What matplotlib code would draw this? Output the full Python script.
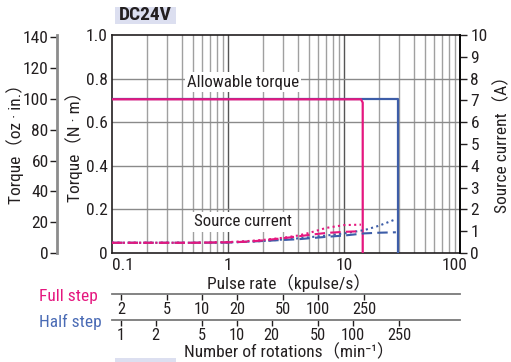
import matplotlib
matplotlib.use("Agg")
import matplotlib.pyplot as plt
import matplotlib.transforms as mtransforms
from matplotlib.patches import Rectangle
from matplotlib import font_manager as fm

# ---- pick a condensed sans face if one is installed ----
_pref = ['Roboto Condensed', 'Liberation Sans Narrow', 'Noto Sans', 'Open Sans', 'DejaVu Sans', 'Roboto', 'Lato', 'Inter']
_cond = {}
for f in fm.fontManager.ttflist:
    st = f.stretch
    if isinstance(st, str):
        is_c = 'condensed' in st or 'narrow' in st
    else:
        is_c = st < 500
    if 'condensed' in f.name.lower() or 'narrow' in f.name.lower():
        is_c = True
    if is_c:
        _cond.setdefault(f.name, True)
CHOSEN = None
for p in _pref:
    if p in _cond:
        CHOSEN = p
        break
if CHOSEN is None:
    for n in _cond:
        CHOSEN = n
        break
if CHOSEN:
    plt.rcParams['font.family'] = [CHOSEN, 'Noto Sans CJK JP', 'DejaVu Sans']
    plt.rcParams['font.stretch'] = 'condensed'
    S = 1.0
else:
    plt.rcParams['font.family'] = ['Liberation Sans', 'Noto Sans CJK JP', 'DejaVu Sans']
    S = 0.84

# ---------------- data ----------------
torque_full_x = [0.1, 14.0, 14.5, 14.5]
torque_full_y = [0.705, 0.705, 0.69, 0.0]
torque_half_x = [0.1, 29.0, 29.0]
torque_half_y = [0.705, 0.705, 0.0]

cur_full_x = [0.1, 0.5, 1.0, 1.5, 2.0, 3.0, 4.0, 5.0, 7.0, 10.0, 14.0]
cur_full_dot = [0.47, 0.47, 0.50, 0.55, 0.60, 0.70, 0.80, 0.92, 1.15, 1.28, 1.30]
cur_full_dash = [0.47, 0.47, 0.49, 0.52, 0.58, 0.68, 0.76, 0.83, 0.92, 0.97, 1.00]

cur_half_x = [0.1, 0.5, 1.0, 2.0, 3.0, 4.0, 7.0, 10.0, 15.0, 20.0, 28.0]
cur_half_dot = [0.47, 0.47, 0.48, 0.55, 0.62, 0.67, 0.80, 0.90, 1.05, 1.25, 1.55]
cur_half_dash = [0.47, 0.47, 0.48, 0.55, 0.60, 0.63, 0.74, 0.80, 0.90, 0.93, 0.95]

pulse_ticks = [0.1, 1, 10, 100]
pulse_labels = ['0.1', '1', '10', '100']
nm_ticks = [0, 0.2, 0.4, 0.6, 0.8, 1.0]
nm_labels = ['0', '0.2', '0.4', '0.6', '0.8', '1.0']
oz_ticks = [0, 20, 40, 60, 80, 100, 120, 140]
cur_ticks = list(range(0, 11))
full_rpm_ticks = [2, 5, 10, 20, 50, 100, 250]
half_rpm_ticks = [1, 2, 5, 10, 20, 50, 100, 250]
FULL_RPM_PER_KPPS = 16.8
HALF_RPM_PER_KPPS = 8.4
NM_PER_OZIN = 0.0070616

PINK = '#e5177f'
BLUE = '#3d5da8'
BLUE_TXT = '#4a6bb5'
INK = '#231f20'

TICK_FS = 12.5 * S
LAB_FS = 12.5 * S
NOTE_FS = 12.2 * S
SEC_FS = 11.8 * S

W, H = 511, 362
fig = plt.figure(figsize=(W / 100, H / 100), dpi=100)
L, R, T, B = 112, 460, 35, 253
AW, AH = R - L, B - T
ax = fig.add_axes([L / W, 1 - B / H, AW / W, AH / H])
ax.set_xscale('log')
ax.set_xlim(0.1, 100)
ax.set_ylim(0, 1.0)

# grid
for d in [0.1, 1, 10]:
    for m in range(2, 10):
        ax.axvline(d * m, color='#a0a0a0', lw=1.0, zorder=1)
for v in [1, 10]:
    ax.axvline(v, color='#555555', lw=1.0, zorder=1)
for yv in [0.2, 0.4, 0.6, 0.8]:
    ax.axhline(yv, color='#8a8a8a', lw=1.0, zorder=1)

ax.set_xticks(pulse_ticks)
ax.set_xticklabels(pulse_labels)
ax.xaxis.set_minor_locator(matplotlib.ticker.NullLocator())
ax.set_yticks(nm_ticks)
ax.set_yticklabels(nm_labels)
ax.tick_params(axis='x', length=0, labelsize=TICK_FS, pad=3.5, colors=INK)
ax.tick_params(axis='y', length=0, labelsize=TICK_FS, pad=3, colors=INK)
_xl = ax.get_xticklabels()
_xl[0].set_horizontalalignment('left')
_xl[-1].set_transform(_xl[-1].get_transform() +
                      mtransforms.ScaledTranslation(-5 / 100, 0, fig.dpi_scale_trans))
for s in ax.spines.values():
    s.set_color(INK)
    s.set_linewidth(1.2)

ax.plot(torque_half_x, torque_half_y, color=BLUE, lw=1.6, zorder=4)
ax.plot(torque_full_x, torque_full_y, color=PINK, lw=1.6, zorder=5)

ax.set_xlabel('Pulse rate（kpulse/s）', fontsize=LAB_FS, color=INK)
ax.xaxis.set_label_coords((289 - L) / AW, (B - 274) / AH)
ax.set_ylabel('Torque（N · m）', fontsize=LAB_FS, color=INK)
ax.yaxis.set_label_coords((83 - L) / AW, (B - 143) / AH)

ax.text((187 - L) / AW, (B - 82) / AH, 'Allowable torque', transform=ax.transAxes, fontsize=NOTE_FS,
        color=INK, va='center', ha='left', zorder=3,
        bbox=dict(facecolor='white', edgecolor='none', pad=1.5))
ax.text((194 - L) / AW, (B - 222) / AH, 'Source current', transform=ax.transAxes, fontsize=NOTE_FS,
        color=INK, va='center', ha='left', zorder=3,
        bbox=dict(facecolor='white', edgecolor='none', pad=1.5))

# source current axis
axc = ax.twinx()
axc.set_ylim(0, 10)
axc.set_yticks(cur_ticks)
axc.tick_params(axis='y', length=5, width=1, labelsize=TICK_FS, pad=2.5, colors=INK)
for k in ['left', 'top', 'bottom']:
    axc.spines[k].set_visible(False)
axc.spines['right'].set_linewidth(1.2)
axc.plot(cur_half_x, cur_half_dash, color=BLUE, lw=1.5, ls=(0, (5, 2.5)), zorder=5)
axc.plot(cur_half_x, cur_half_dot, color=BLUE, lw=1.5, ls=(0, (1, 1.6)), zorder=5)
axc.plot(cur_full_x, cur_full_dash, color=PINK, lw=1.5, ls=(0, (5, 2.5)), zorder=6)
axc.plot(cur_full_x, cur_full_dot, color=PINK, lw=1.5, ls=(0, (1, 1.6)), zorder=6)
axc.set_ylabel('Source current（A）', fontsize=LAB_FS, color=INK)
axc.yaxis.set_label_coords((494 - L) / AW, (B - 140) / AH)

# oz-in axis
axo = ax.twinx()
axo.set_ylim(0, 1.0 / NM_PER_OZIN)
axo.yaxis.set_ticks_position('left')
axo.yaxis.set_label_position('left')
axo.spines['left'].set_position(('axes', (57 - L) / AW))
axo.spines['left'].set_color('#8c8c8c')
axo.spines['left'].set_linewidth(2.0)
for k in ['right', 'top', 'bottom']:
    axo.spines[k].set_visible(False)
axo.set_yticks(oz_ticks)
axo.tick_params(axis='y', length=5, width=1, labelsize=TICK_FS, pad=1, colors=INK)
axo.set_ylabel('Torque（oz · in.）', fontsize=LAB_FS, color=INK)
axo.yaxis.set_label_coords((24 - L) / AW, (B - 140) / AH)

# rotation scales
def mk_sec(ypix, ratio, ticks):
    sec = ax.secondary_xaxis((B - ypix) / AH,
                             functions=(lambda x: x * ratio, lambda x: x / ratio))
    sec.set_xticks(ticks)
    sec.set_xticklabels([str(t) for t in ticks])
    sec.xaxis.set_minor_locator(matplotlib.ticker.NullLocator())
    sec.spines['bottom'].set_color('#7a7a7a')
    sec.spines['bottom'].set_linewidth(1.3)
    sec.tick_params(axis='x', length=4, width=1, labelsize=SEC_FS, pad=1.5, colors=INK)
    return sec

mk_sec(294, FULL_RPM_PER_KPPS, full_rpm_ticks)
mk_sec(320, HALF_RPM_PER_KPPS, half_rpm_ticks)

fig.text(39 / W, 1 - 296 / H, 'Full step', color=PINK, fontsize=LAB_FS, va='center', ha='left')
fig.text(39 / W, 1 - 322 / H, 'Half step', color=BLUE_TXT, fontsize=LAB_FS, va='center', ha='left')
fig.text(289 / W, 1 - 352 / H, 'Number of rotations（min⁻¹）', color=INK,
         fontsize=LAB_FS, va='center', ha='center')

# header
fig.patches.append(Rectangle((115 / W, 1 - 24 / H), 61 / W, 17 / H, transform=fig.transFigure,
                             facecolor='#dcdff0', edgecolor='none'))
fig.text(145.5 / W, 1 - 15.5 / H, 'DC24V', fontsize=14 * S, fontweight='bold', color=INK,
         va='center', ha='center')
fig.patches.append(Rectangle((115 / W, 0), 61 / W, 4 / H, transform=fig.transFigure,
                             facecolor='#dcdff0', edgecolor='none'))

fig.savefig('out.png', dpi=100)
